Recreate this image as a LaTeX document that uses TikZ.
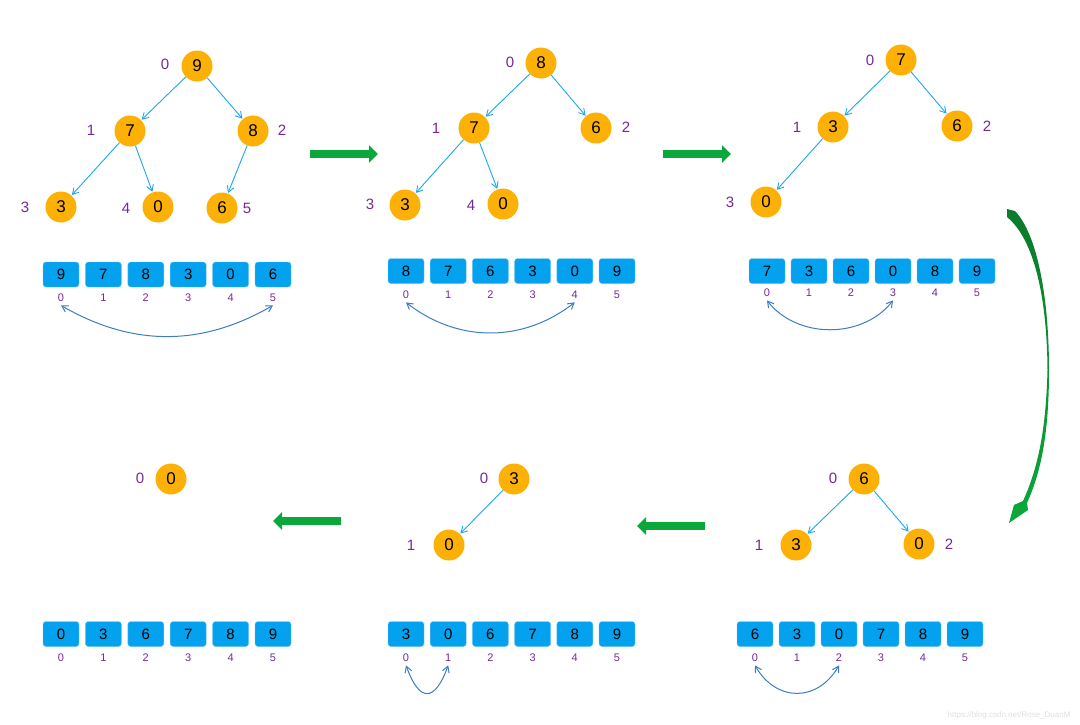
\documentclass[tikz,border=0pt]{standalone}
\usepackage{fontspec}
\usepackage{tikz}
\usetikzlibrary{arrows.meta, positioning}
\newfontfamily\labelfont{Liberation Sans}
\definecolor{heaporange}{HTML}{FDB107}
\definecolor{cellblue}{HTML}{04A1EE}
\definecolor{edgeblue}{HTML}{1BA8EC}
\definecolor{swapblue}{HTML}{3D7DC4}
\definecolor{idxpurple}{HTML}{74289A}
\definecolor{arrowgreen}{HTML}{0AA83A}
\definecolor{darkgreen}{HTML}{0B7A2C}
\tikzset{
  hnode/.style  = {circle, fill=heaporange, minimum size=31pt, inner sep=0pt,
                   font=\labelfont\fontsize{17}{17}\selectfont},
  hcell/.style  = {rectangle, rounded corners=3pt, fill=cellblue,
                   draw=cellblue!60!white, minimum width=36pt, minimum height=25pt,
                   inner sep=0pt, font=\labelfont\fontsize{15}{15}\selectfont},
  hidx/.style   = {text=idxpurple, font=\labelfont\fontsize{15}{15}\selectfont},
  cidx/.style   = {text=idxpurple, font=\labelfont\fontsize{11}{11}\selectfont},
  hedge/.style  = {-{Straight Barb[length=6pt,width=7pt]}, edgeblue,
                   line width=0.9pt, shorten >=0.5pt},
  hswap/.style  = {{Straight Barb[length=6pt,width=7pt]}-{Straight Barb[length=6pt,width=7pt]},
                   swapblue, line width=1pt},
  hmove/.style  = {-{Triangle[length=9pt,width=17pt]}, arrowgreen, line width=8pt},
}
\begin{document}
\begin{tikzpicture}[x=1pt, y=1pt]
  \useasboundingbox (0,0) rectangle (1080,-724);

  % step 1: heap 9 7 8 3 0 6
  \node[hnode] (a0) at (197,-66) {9};
  \node[hnode] (a1) at (130,-131) {7};
  \node[hnode] (a2) at (253,-131) {8};
  \node[hnode] (a3) at (61,-207) {3};
  \node[hnode] (a4) at (158,-207) {0};
  \node[hnode] (a5) at (222,-208) {6};
  \node[hidx] at (165,-64) {0};
  \node[hidx] at (91,-130) {1};
  \node[hidx] at (282,-130) {2};
  \node[hidx] at (25,-207) {3};
  \node[hidx] at (126,-208) {4};
  \node[hidx] at (247,-208) {5};
  \draw[hedge] (a0) -- (a1);
  \draw[hedge] (a0) -- (a2);
  \draw[hedge] (a1) -- (a3);
  \draw[hedge] (a1) -- (a4);
  \draw[hedge] (a2) -- (a5);
  \foreach \v [count=\i from 0] in {9,7,8,3,0,6} {
    \node[hcell] (ac\i) at ({61+42.4*\i},-274.5) {\v};
    \node[cidx] (ai\i) at ({61+42.4*\i},-298) {\i};
  }
  \draw[hswap] (ai0.south) to[bend right=30] (ai5.south);

  % step 2: 8 7 6 3 0 | 9
  \node[hnode] (b0) at (541,-63) {8};
  \node[hnode] (b1) at (474,-128) {7};
  \node[hnode] (b2) at (596,-128) {6};
  \node[hnode] (b3) at (405,-205) {3};
  \node[hnode] (b4) at (503,-204) {0};
  \node[hidx] at (510,-62) {0};
  \node[hidx] at (436,-128) {1};
  \node[hidx] at (626,-127) {2};
  \node[hidx] at (370,-204) {3};
  \node[hidx] at (471,-205) {4};
  \draw[hedge] (b0) -- (b1);
  \draw[hedge] (b0) -- (b2);
  \draw[hedge] (b1) -- (b3);
  \draw[hedge] (b1) -- (b4);
  \foreach \v [count=\i from 0] in {8,7,6,3,0,9} {
    \node[hcell] (bc\i) at ({406+42.2*\i},-271) {\v};
    \node[cidx] (bi\i) at ({406+42.2*\i},-295) {\i};
  }
  \draw[hswap] (bi0.south) to[bend right=38] (bi4.south);

  % step 3: 7 3 6 0 | 8 9
  \node[hnode] (c0) at (901,-60) {7};
  \node[hnode] (c1) at (833,-127) {3};
  \node[hnode] (c2) at (957,-126) {6};
  \node[hnode] (c3) at (766,-202) {0};
  \node[hidx] at (870,-60) {0};
  \node[hidx] at (797,-127) {1};
  \node[hidx] at (987,-126) {2};
  \node[hidx] at (730,-202) {3};
  \draw[hedge] (c0) -- (c1);
  \draw[hedge] (c0) -- (c2);
  \draw[hedge] (c1) -- (c3);
  \foreach \v [count=\i from 0] in {7,3,6,0,8,9} {
    \node[hcell] (cc\i) at ({767+42*\i},-271) {\v};
    \node[cidx] (ci\i) at ({767+42*\i},-293) {\i};
  }
  \draw[hswap] (ci0.south) to[bend right=52] (ci3.south);

  % step 4: 6 3 0 | 7 8 9
  \node[hnode] (d0) at (864,-479) {6};
  \node[hnode] (d1) at (796,-545) {3};
  \node[hnode] (d2) at (919,-544) {0};
  \node[hidx] at (833,-478) {0};
  \node[hidx] at (759,-545) {1};
  \node[hidx] at (949,-544) {2};
  \draw[hedge] (d0) -- (d1);
  \draw[hedge] (d0) -- (d2);
  \foreach \v [count=\i from 0] in {6,3,0,7,8,9} {
    \node[hcell] (dc\i) at ({755+42*\i},-634) {\v};
    \node[cidx] (di\i) at ({755+42*\i},-658) {\i};
  }
  \draw[hswap] (di0.south) to[out=-60, in=-120, looseness=1.3] (di2.south);

  % step 5: 3 0 | 6 7 8 9
  \node[hnode] (e0) at (514,-479) {3};
  \node[hnode] (e1) at (449,-545) {0};
  \node[hidx] at (484,-478) {0};
  \node[hidx] at (411,-545) {1};
  \draw[hedge] (e0) -- (e1);
  \foreach \v [count=\i from 0] in {3,0,6,7,8,9} {
    \node[hcell] (ec\i) at ({406+42.2*\i},-634) {\v};
    \node[cidx] (ei\i) at ({406+42.2*\i},-658) {\i};
  }
  \draw[hswap] (ei0.south) to[out=-70, in=-110, looseness=2.4] (ei1.south);

  % step 6: sorted
  \node[hnode] (f0) at (171,-479) {0};
  \node[hidx] at (140,-478) {0};
  \foreach \v [count=\i from 0] in {0,3,6,7,8,9} {
    \node[hcell] (fc\i) at ({61+42.4*\i},-634) {\v};
    \node[cidx] (fi\i) at ({61+42.4*\i},-658) {\i};
  }

  % green arrows between steps
  \coordinate (g1s) at (310,-154);
  \coordinate (g1e) at (378,-154);
  \coordinate (g2s) at (663,-154);
  \coordinate (g2e) at (731,-154);
  \coordinate (g3s) at (705,-526);
  \coordinate (g3e) at (637,-526);
  \coordinate (g4s) at (341,-521);
  \coordinate (g4e) at (273,-521);
  \draw[hmove] (g1s) -- (g1e);
  \draw[hmove] (g2s) -- (g2e);
  \draw[hmove] (g3s) -- (g3e);
  \draw[hmove] (g4s) -- (g4e);

  % big bent arrow on the right
  \shade[top color=darkgreen, middle color=green!12, bottom color=arrowgreen]
    (1007,-209) -- (1015,-211)
    .. controls (1038,-235) and (1049,-300) .. (1049,-370)
    .. controls (1049,-430) and (1042,-470) .. (1027,-503)
    -- (1028,-510) -- (1009,-523) -- (1014,-505) -- (1023,-501)
    .. controls (1038,-468) and (1046,-430) .. (1047.5,-370)
    .. controls (1047,-300) and (1035,-240) .. (1007,-217) -- cycle;

  \node[text=gray!25, font=\labelfont\fontsize{8}{8}\selectfont, anchor=east] (mark) at (1074,-715)
    {https://blog.csdn.net/Rose\_DuanM};
\end{tikzpicture}
\end{document}
